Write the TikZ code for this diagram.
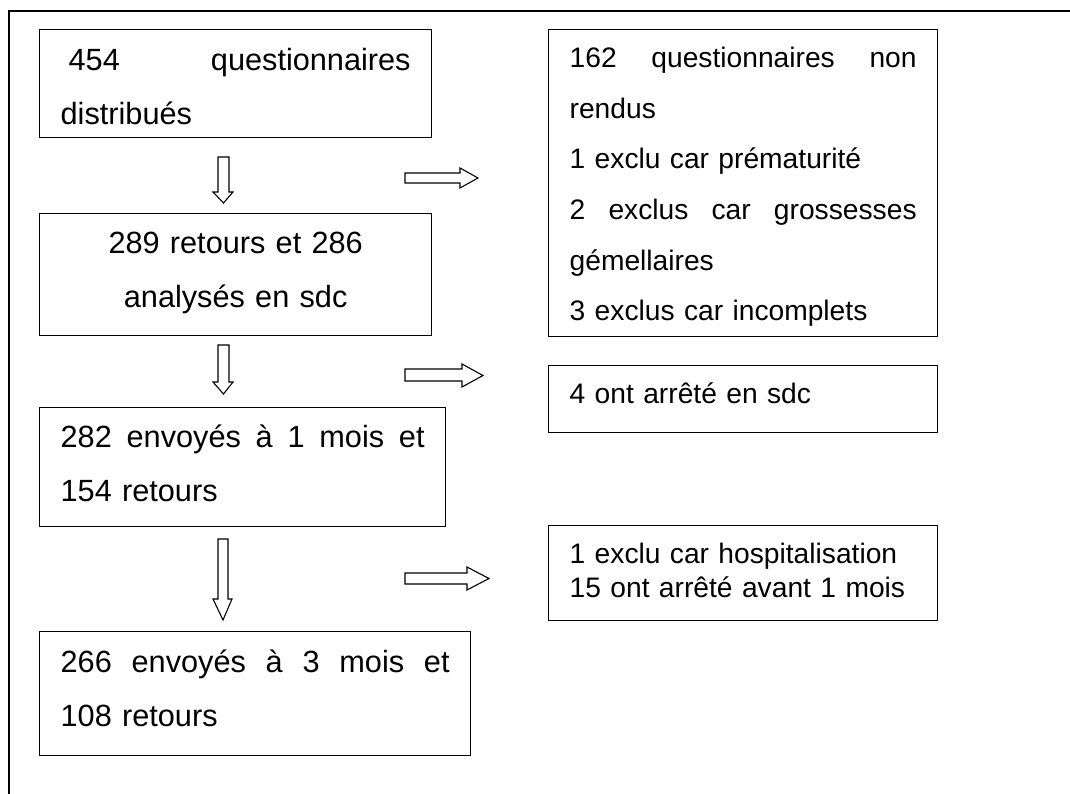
\documentclass[tikz,border=0pt]{standalone}
\usepackage{fontspec}
\setmainfont{Liberation Sans}
\begin{document}
\begin{tikzpicture}[x=1pt,y=-1pt,
  frame/.style={line width=1.5pt},
  boxL/.style={draw, line width=1.3pt, inner xsep=21pt, inner ysep=0pt, anchor=north west,
    font=\fontsize{30.7pt}{54pt}\selectfont},
  boxR/.style={draw, line width=1.3pt, inner xsep=21pt, inner ysep=0pt, anchor=north west,
    font=\fontsize{28.2pt}{50.6pt}\selectfont, align=left},
  blk/.style={draw, line width=1.1pt, fill=white, line join=miter}]
\useasboundingbox (0,0) rectangle (1070,794);
% outer frame
\coordinate (ftr) at (1070,11);
\coordinate (fbl) at (9,794);
\coordinate (ftl) at (9,11);
\draw[frame] (ftr) -- (ftl) -- (fbl);

% left column
\node[boxL, align=left, text width=350pt, text height=41pt, text depth=67pt] (b1) at (39,29)
  {\hspace*{8pt}454\hfill questionnaires\\distribués};
\node[boxL, align=center, text width=350pt, text height=40pt, text depth=82pt] (b2) at (39,213)
  {289 retours et 286\\analysés en sdc};
\node[boxL, align=left, text width=364pt, text height=40pt, text depth=79pt] (b3) at (39,407)
  {282\hfill envoyés\hfill à\hfill 1\hfill mois\hfill et\\154 retours};
\node[boxL, align=left, text width=389pt, text height=41pt, text depth=83pt] (b4) at (39,631)
  {266\hfill envoyés\hfill à\hfill 3\hfill mois\hfill et\\108 retours};

% right column
\node[boxR, text width=347pt, text height=38pt, text depth=269pt] (r1) at (548,29)
  {162\hfill questionnaires\hfill non\\rendus\\1 exclu car prématurité\\2\hfill exclus\hfill car\hfill grossesses\\gémellaires\\3 exclus car incomplets};
\node[boxR, text width=347pt, text height=38pt, text depth=29pt] (r2) at (548,365)
  {4 ont arrêté en sdc};
\node[boxR, text width=347pt, text height=38pt, text depth=57pt,
  font=\fontsize{28.2pt}{34pt}\selectfont] (r3) at (548,525)
  {1 exclu car hospitalisation\\15 ont arrêté avant 1 mois};

% block arrows down
\draw[blk] (218,157) -- (229,157) -- (229,192) -- (233,192) -- (223.5,203) -- (213,192) -- (218,192) -- cycle;
\draw[blk] (218,345) -- (229,345) -- (229,382) -- (233,382) -- (223.5,394) -- (213,382) -- (218,382) -- cycle;
\draw[blk] (218,539) -- (228,539) -- (228,599) -- (232,599) -- (223,620) -- (213,599) -- (218,599) -- cycle;

% block arrows right
\draw[blk] (405,173) -- (460,173) -- (460,168) -- (478,178) -- (460,188) -- (460,183) -- (405,183) -- cycle;
\draw[blk] (405,369) -- (462,369) -- (462,364) -- (483,375.5) -- (462,387) -- (462,381) -- (405,381) -- cycle;
\draw[blk] (405,573) -- (467,573) -- (467,567) -- (489,578.5) -- (467,590) -- (467,584) -- (405,584) -- cycle;
\end{tikzpicture}
\end{document}
